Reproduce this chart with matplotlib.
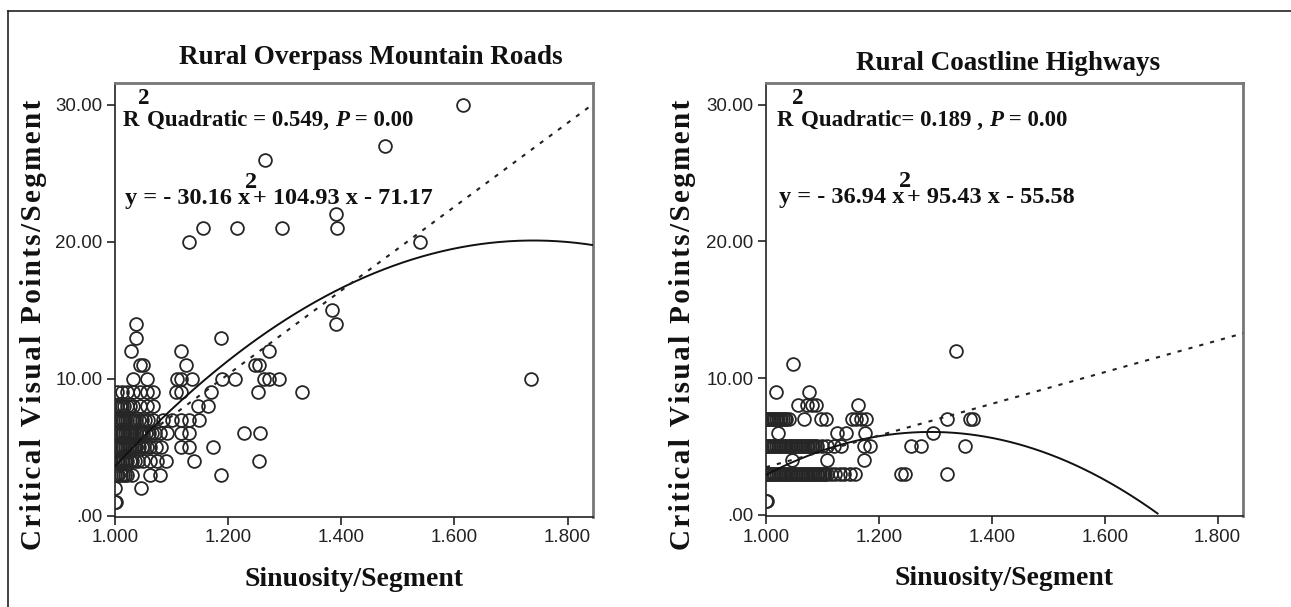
import numpy as np
import matplotlib
matplotlib.use('Agg')
import matplotlib.pyplot as plt
from matplotlib.lines import Line2D
from matplotlib.ticker import FuncFormatter, MultipleLocator

# ---- data ----
# points are grouped by their (integer) count of critical visual points
# left panel: Rural Overpass Mountain Roads
mtn_rows = [
    (30, [1.615]),
    (27, [1.478]),
    (26, [1.265]),
    (22, [1.390]),
    (21, [1.155, 1.215, 1.295, 1.392]),
    (20, [1.130, 1.540]),
    (15, [1.384]),
    (14, [1.037, 1.391]),
    (13, [1.037, 1.187]),
    (12, [1.028, 1.116, 1.272]),
    (11, [1.044, 1.050, 1.126, 1.247, 1.255]),
    (10, [1.032, 1.057, 1.110, 1.116, 1.137, 1.190, 1.213, 1.263, 1.272, 1.290, 1.735]),
    (9, [1.003, 1.012, 1.021, 1.032, 1.044, 1.057, 1.068, 1.107, 1.116, 1.169, 1.252, 1.331]),
    (8, [1.000, 1.004, 1.008, 1.012, 1.016, 1.021, 1.026, 1.032, 1.044, 1.057, 1.068, 1.146, 1.164]),
    (7, [1.000, 1.003, 1.006, 1.009, 1.012, 1.015, 1.018, 1.022, 1.026, 1.030, 1.034, 1.038,
         1.043, 1.048, 1.053, 1.058, 1.068, 1.085, 1.101, 1.116, 1.130, 1.148]),
    (6, [1.000, 1.003, 1.006, 1.009, 1.012, 1.015, 1.018, 1.021, 1.024, 1.027, 1.030, 1.034,
         1.038, 1.042, 1.046, 1.050, 1.055, 1.060, 1.065, 1.070, 1.080, 1.092, 1.116, 1.130,
         1.228, 1.256]),
    (5, [1.000, 1.003, 1.006, 1.009, 1.012, 1.015, 1.018, 1.021, 1.024, 1.027, 1.030, 1.034,
         1.038, 1.042, 1.047, 1.052, 1.057, 1.062, 1.072, 1.082, 1.116, 1.130, 1.174]),
    (4, [1.000, 1.003, 1.006, 1.009, 1.012, 1.015, 1.018, 1.022, 1.026, 1.030, 1.035, 1.040,
         1.050, 1.062, 1.075, 1.090, 1.139, 1.254]),
    (3, [1.000, 1.003, 1.006, 1.010, 1.014, 1.018, 1.021, 1.030, 1.062, 1.080, 1.188]),
    (2, [1.000, 1.046]),
    (1, [1.000, 1.002]),
]

# right panel: Rural Coastline Highways
cst_rows = [
    (12, [1.336]),
    (11, [1.048]),
    (9, [1.018, 1.076]),
    (8, [1.057, 1.073, 1.082, 1.089, 1.163]),
    (7, [1.000, 1.003, 1.006, 1.009, 1.012, 1.015, 1.018, 1.021, 1.024, 1.027, 1.030, 1.033,
         1.036, 1.040, 1.068, 1.098, 1.107, 1.153, 1.160, 1.169, 1.178, 1.321, 1.362, 1.366]),
    (6, [1.022, 1.125, 1.141, 1.175, 1.295]),
    (5, [1.000, 1.003, 1.006, 1.009, 1.012, 1.015, 1.018, 1.021, 1.024, 1.027, 1.030, 1.033,
         1.036, 1.039, 1.042, 1.045, 1.048, 1.051, 1.054, 1.057, 1.060, 1.063, 1.066, 1.069,
         1.072, 1.075, 1.078, 1.081, 1.084, 1.087, 1.090,
         1.100, 1.108, 1.120, 1.132, 1.173, 1.185, 1.256, 1.275, 1.353]),
    (4, [1.046, 1.108, 1.173]),
    (3, [1.000, 1.003, 1.006, 1.009, 1.012, 1.015, 1.018, 1.021, 1.024, 1.027, 1.030, 1.033,
         1.036, 1.039, 1.042, 1.045, 1.048, 1.051, 1.054, 1.057, 1.060, 1.063, 1.066, 1.069,
         1.072, 1.075, 1.078, 1.081, 1.084, 1.087, 1.090, 1.093, 1.096, 1.099, 1.102, 1.105,
         1.108, 1.115, 1.122, 1.131, 1.139, 1.148, 1.157, 1.240, 1.247, 1.321]),
    (1, [1.000, 1.001]),
]

mtn_quad = (-30.16, 104.93, -71.17)
cst_quad = (-36.94, 95.43, -55.58)
mtn_lin = (30.6, -26.4)
cst_lin = (11.6, -8.13)

titles = ['Rural Overpass Mountain Roads', 'Rural Coastline Highways']
r2_text = ['Quadratic = 0.549, ', 'Quadratic= 0.189 , ']
eq_left = ['y = - 30.16 x', 'y = - 36.94 x']
eq_right = ['+ 104.93 x - 71.17', '+ 95.43 x - 55.58']
xlabel = 'Sinuosity/Segment'
ylabel = 'Critical Visual Points/Segment'

SERIF = ['Liberation Serif', 'DejaVu Serif']
SANS = 'Liberation Sans'
TXT = '#111111'

fig = plt.figure(figsize=(12.91, 6.07), dpi=100)

# outer frame lines (only top and left are visible)
fig.add_artist(Line2D([8 / 1291, 1], [1 - 11 / 607, 1 - 11 / 607], color='#222222', lw=1.2))
fig.add_artist(Line2D([8 / 1291, 8 / 1291], [0, 1 - 11 / 607], color='#222222', lw=1.2))


def yfmt(v, pos):
    if abs(v) < 1e-9:
        return '.00'
    return '%.2f' % v


def spaced(s):
    # the reference label is letter-spaced; imitate with hair spaces
    return '\u200a'.join(s)


def draw_panel(rect, rows, quad, lin, idx):
    ax = fig.add_axes(rect)
    xs = [x for y, row in rows for x in row]
    ys = [y for y, row in rows for x in row]
    ax.plot(xs, ys, 'o', ms=9.2, mfc='none', mec='#262626', mew=1.3, zorder=3)

    gx = np.linspace(1.0, 1.85, 300)
    a, b, c = quad
    gy = a * gx ** 2 + b * gx + c
    keep = gy >= 0
    ax.plot(gx[keep], gy[keep], '-', color='#111111', lw=1.4, zorder=4)
    ax.plot(gx, lin[0] * gx + lin[1], color='#222222', lw=1.5,
            dashes=(2.0, 3.4), zorder=4)

    ax.set_xlim(1.0, 1.845)
    ax.set_ylim(-0.1, 31.6)
    ax.xaxis.set_major_locator(MultipleLocator(0.2))
    ax.yaxis.set_major_locator(MultipleLocator(10))
    ax.xaxis.set_major_formatter(FuncFormatter(lambda v, p: '%.3f' % v))
    ax.yaxis.set_major_formatter(FuncFormatter(yfmt))
    ax.tick_params(direction='out', length=6, width=1.2, color='#222222',
                   labelsize=13.5, labelcolor='#222222', pad=3)
    for lab in ax.get_xticklabels() + ax.get_yticklabels():
        lab.set_family(SANS)
    for side in ['left', 'bottom']:
        ax.spines[side].set_color('#222222')
        ax.spines[side].set_linewidth(1.2)
    for side in ['top', 'right']:
        ax.spines[side].set_color('#777777')
        ax.spines[side].set_linewidth(2.0)

    ax.set_xlabel(xlabel, family=SERIF, weight='bold', size=20,
                  color=TXT, labelpad=15)
    ax.set_ylabel(spaced(ylabel), family=SERIF, weight='bold',
                  size=21, color=TXT)
    ax.yaxis.set_label_coords(-0.143 if idx == 0 else -0.147, 0.442)

    # R^2 line
    bold = dict(family=SERIF, weight='bold', size=16.5, color=TXT)
    eqf = dict(family=SERIF, weight='bold', size=17.5, color=TXT)
    tx = 0.017 if idx == 0 else 0.023
    ax.text(tx, 0.900, 'R', transform=ax.transAxes, va='baseline', **bold)
    ax.text(tx + 0.031, 0.952, '2', transform=ax.transAxes, va='baseline', **bold)
    q = ax.text(tx + 0.050, 0.900, r2_text[idx], transform=ax.transAxes,
                va='baseline', **bold)
    p = ax.annotate('P', xy=(1, 0), xycoords=q, va='bottom', ha='left',
                    family=SERIF, weight='bold', style='italic', size=16.5, color=TXT)
    ax.annotate(' = 0.00', xy=(1, 0), xycoords=p, va='bottom', ha='left', **bold)

    # equation line
    e1 = ax.text(tx + 0.004, 0.722, eq_left[idx], transform=ax.transAxes,
                 va='baseline', **eqf)
    ax.annotate('2', xy=(1, 1), xycoords=e1, xytext=(-3.5, 0),
                textcoords='offset points', va='baseline', ha='left', **eqf)
    ax.annotate(eq_right[idx], xy=(1, 0), xycoords=e1, xytext=(2, 0),
                textcoords='offset points', va='bottom', ha='left', **eqf)
    return ax


ax1 = draw_panel([115 / 1291, 90 / 607, 478 / 1291, 434 / 607],
                 mtn_rows, mtn_quad, mtn_lin, 0)
ax2 = draw_panel([766 / 1291, 91 / 607, 477 / 1291, 433 / 607],
                 cst_rows, cst_quad, cst_lin, 1)

fig.text(371 / 1291, 1 - 58 / 607, titles[0], ha='center', va='center',
         family=SERIF, weight='bold', size=19.5, color=TXT)
fig.text(1008 / 1291, 1 - 64 / 607, titles[1], ha='center', va='center',
         family=SERIF, weight='bold', size=19.5, color=TXT)

fig.savefig('out.png', dpi=100)
